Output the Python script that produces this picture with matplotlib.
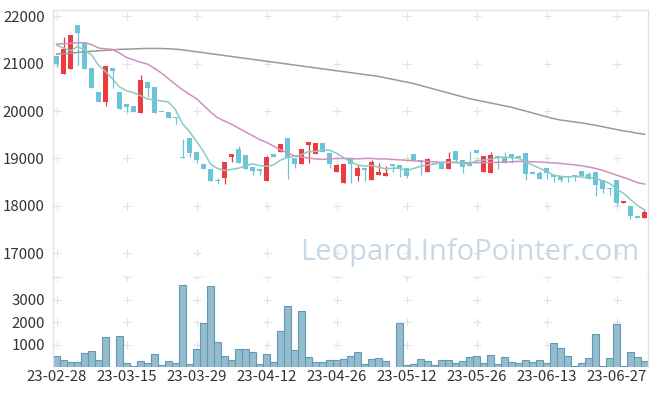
import numpy as np
from matplotlib import pyplot as plt

plt.rcParams['font.family'] = ['Noto Sans CJK KR', 'DejaVu Sans']

# 일봉 데이터 (시가, 고가, 저가, 종가)
opens = [21160, 20780, 20890, 21810, 21450, 20900, 20400, 20200, 20900, 20400,
         20150, 20100, 19960, 20610, 20500, 19990, 19980, 19870, 19030, 19430,
         19130, 18880, 18780, 18540, 18580, 19040, 19200, 19070, 18820, 18770,
         18530, 19090, 19140, 19430, 19010, 18880, 19290, 19100, 19320, 19110,
         18720, 18490, 19010, 18620, 18790, 18540, 18660, 18620, 18880, 18860,
         18790, 19090, 18970, 18720, 18910, 18920, 18780, 19150, 18970, 18910,
         19180, 18720, 18690, 19060, 19010, 19090, 19050, 19110, 18710, 18700,
         18800, 18660, 18630, 18640, 18640, 18730, 18680, 18710, 18550, 18380,
         18540, 18050, 18000, 17780, 17750]
highs = [21160, 21560, 21600, 21810, 21450, 20900, 20400, 20950, 20900, 20400,
         20150, 20100, 20760, 20610, 20500, 19990, 19980, 19870, 19420, 19430,
         19130, 18880, 18780, 18590, 18920, 19090, 19260, 19070, 18820, 18780,
         19050, 19090, 19300, 19430, 19010, 19200, 19340, 19320, 19320, 19110,
         18880, 18880, 19010, 18870, 18790, 18970, 18910, 18850, 18880, 18860,
         18790, 19090, 18970, 19010, 18910, 18920, 19130, 19150, 18970, 19150,
         19180, 19050, 19130, 19060, 19130, 19090, 19050, 19110, 18740, 18740,
         18800, 18660, 18630, 18640, 18640, 18730, 18710, 18710, 18550, 18380,
         18540, 18100, 18000, 17780, 17940]
lows = [20930, 20780, 20890, 20970, 20890, 20490, 20200, 20100, 20490, 20050,
        19990, 19990, 19960, 20290, 19960, 19970, 19860, 19720, 19010, 19020,
        18910, 18780, 18530, 18460, 18460, 18930, 18900, 18780, 18660, 18660,
        18530, 19030, 19140, 18560, 18790, 18880, 18910, 19100, 19140, 18790,
        18720, 18490, 18490, 18520, 18520, 18540, 18660, 18620, 18720, 18600,
        18590, 18970, 18650, 18720, 18890, 18780, 18780, 18930, 18700, 18850,
        19120, 18720, 18690, 18780, 18900, 18900, 19010, 18540, 18680, 18570,
        18560, 18500, 18500, 18500, 18530, 18640, 18570, 18210, 18270, 18220,
        18000, 18050, 17720, 17750, 17750]
closes = [21000, 21300, 21600, 21650, 20890, 20490, 20200, 20950, 20850, 20050,
          20090, 19990, 20650, 20490, 19960, 19980, 19860, 19850, 19010, 19120,
          18970, 18780, 18530, 18530, 18920, 19090, 18900, 18780, 18740, 18730,
          19030, 19030, 19300, 19000, 18880, 19200, 19340, 19320, 19140, 18880,
          18870, 18880, 18880, 18800, 18760, 18930, 18720, 18700, 18850, 18780,
          18640, 18970, 18930, 18990, 18890, 18780, 18990, 18970, 18830, 18850,
          19120, 19050, 19070, 19010, 18900, 19040, 19010, 18680, 18680, 18570,
          18700, 18610, 18550, 18610, 18630, 18640, 18570, 18450, 18360, 18360,
          18050, 18100, 17790, 17750, 17870]
# 차트 시작 전 4일 종가 (5일 이동평균용)
prev_closes = [21600, 21900, 21200, 21250]

# 20일, 60일 이동평균
ma20 = [21410, 21420, 21430, 21440, 21440, 21400, 21330, 21310, 21300, 21220,
        21130, 21080, 21030, 20990, 20900, 20800, 20680, 20560, 20450, 20350,
        20260, 20120, 19980, 19860, 19790, 19720, 19640, 19560, 19480, 19400,
        19340, 19260, 19180, 19120, 19050, 19030, 19010, 18990, 18980, 18990,
        19000, 19000, 19000, 18990, 19000, 19000, 18990, 18990, 18980, 18970,
        18960, 18950, 18940, 18935, 18930, 18920, 18915, 18912, 18910, 18910,
        18910, 18912, 18915, 18918, 18922, 18930, 18938, 18935, 18930, 18925,
        18915, 18905, 18895, 18880, 18865, 18845, 18820, 18790, 18750, 18700,
        18650, 18600, 18550, 18490, 18460]
ma60 = [21200, 21210, 21220, 21235, 21250, 21260, 21270, 21280, 21290, 21300,
        21305, 21310, 21315, 21320, 21320, 21318, 21312, 21305, 21290, 21270,
        21250, 21230, 21210, 21190, 21170, 21150, 21130, 21110, 21090, 21070,
        21050, 21030, 21010, 20990, 20970, 20950, 20930, 20910, 20890, 20870,
        20850, 20830, 20810, 20790, 20770, 20750, 20730, 20700, 20670, 20640,
        20610, 20580, 20540, 20500, 20460, 20420, 20380, 20340, 20300, 20260,
        20230, 20200, 20170, 20140, 20110, 20080, 20040, 20000, 19960, 19920,
        19880, 19840, 19810, 19790, 19770, 19750, 19725, 19700, 19670, 19640,
        19610, 19580, 19560, 19530, 19510]

volumes = [500, 330, 225, 225, 630, 690, 310, 1340, 20, 1390,
           180, 45, 270, 180, 580, 90, 270, 180, 3630, 135,
           800, 1940, 3580, 1120, 490, 310, 800, 800, 670, 135,
           580, 225, 1610, 2690, 760, 2510, 450, 225, 225, 310,
           310, 360, 490, 670, 135, 360, 400, 270, 0, 1970,
           90, 135, 360, 270, 90, 310, 310, 180, 270, 450,
           490, 180, 540, 135, 450, 225, 180, 310, 225, 310,
           180, 1070, 850, 490, 45, 180, 400, 1480, 45, 400,
           1930, 45, 670, 450, 270]

tick_pos = [0, 10, 20, 30, 40, 50, 60, 70, 80]
tick_labels = ['23-02-28', '23-03-15', '23-03-29', '23-04-12', '23-04-26',
               '23-05-12', '23-05-26', '23-06-13', '23-06-27']
price_ticks = [17000, 18000, 19000, 20000, 21000, 22000]
vol_ticks = [1000, 2000, 3000]

UP = '#ee3b40'
DOWN = '#6cc4da'
GRID = '#e2e2e2'

x = np.arange(len(closes))
o = np.array(opens)
c = np.array(closes)
ma5 = np.convolve(np.array(prev_closes + closes, dtype=float), np.ones(5) / 5, mode='valid')

fig = plt.figure(figsize=(6.57, 3.96), dpi=100)
ax1 = fig.add_axes([0.0807, 0.3005, 0.9056, 0.6742])
ax2 = fig.add_axes([0.0807, 0.0732, 0.9056, 0.2273], sharex=ax1)

# 격자 대신 + 표시
gx, gy = np.meshgrid(tick_pos, price_ticks)
ax1.scatter(gx.ravel(), gy.ravel(), marker='+', s=30, c=GRID, lw=0.8, zorder=0)
gx, gy = np.meshgrid(tick_pos, vol_ticks + [4000])
ax2.scatter(gx.ravel(), gy.ravel(), marker='+', s=30, c=GRID, lw=0.8, zorder=0)

# 캔들
up = c >= o
colors = np.where(up, UP, DOWN)
ax1.vlines(x, lows, highs, colors=colors, lw=0.9, zorder=2)
bottom = np.minimum(o, c)
height = np.maximum(np.abs(c - o), 12)
ax1.bar(x, height, bottom=bottom, width=0.72, color=colors, zorder=3)

# 이동평균선
ax1.plot(x, ma60, color='#9a9a9a', lw=1.1, zorder=4)
ax1.plot(x, ma20, color='#cf8fc2', lw=1.1, zorder=4)
ax1.plot(x, ma5, color='#8acbbf', lw=1.1, zorder=4)

ax1.text(0.70, 0.09, 'Leopard.InfoPointer.com', transform=ax1.transAxes,
         ha='center', va='center', fontsize=21, color='#c8d8e4',
         family=['Open Sans', 'DejaVu Sans'], zorder=1)

ax1.set_ylim(16500, 22130)
ax1.set_xlim(-0.5, len(closes) - 0.5)
ax1.set_yticks(price_ticks)
ax1.tick_params(axis='x', labelbottom=False, length=0)
ax1.tick_params(axis='y', length=0, pad=6, labelsize=10.8, labelcolor='#333333')

# 거래량
ax2.bar(x, volumes, width=1.0, color='#94bccf', edgecolor='#6598b2', lw=0.8)
ax2.set_ylim(0, 4000)
ax2.set_yticks(vol_ticks)
ax2.set_xticks(tick_pos)
ax2.set_xticklabels(tick_labels)
ax2.tick_params(axis='both', length=0, labelsize=10.8, labelcolor='#333333')
ax2.tick_params(axis='y', pad=6)
ax2.tick_params(axis='x', pad=2)

for ax in (ax1, ax2):
    for s in ax.spines.values():
        s.set_color(GRID)
        s.set_linewidth(1)
ax2.spines['bottom'].set_visible(False)
ax2.spines['top'].set_visible(False)

plt.savefig('out.png')
